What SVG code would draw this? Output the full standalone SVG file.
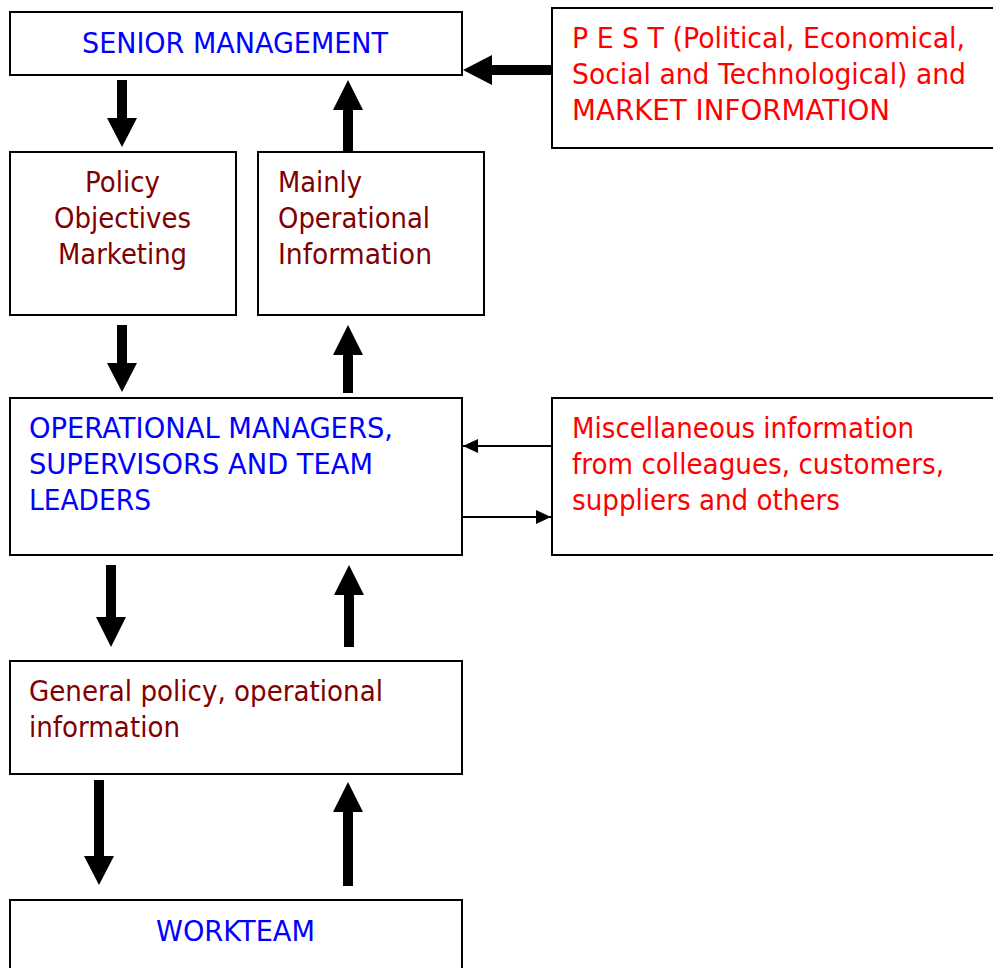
<svg xmlns="http://www.w3.org/2000/svg" width="993" height="968" viewBox="0 0 993 968">
<style>
.box{fill:#fff;stroke:#000;stroke-width:2}
.t{font-family:"DejaVu Sans",Verdana,sans-serif;font-size:28px}
.blue{fill:#0000ff}
.red{fill:#ff0000}
.dred{fill:#800000}
.thick{fill:#000}
.thin{stroke:#000;stroke-width:2;fill:none}
</style>
<defs>
<marker id="ah" markerWidth="16" markerHeight="16" refX="15" refY="8" orient="auto" markerUnits="userSpaceOnUse">
<path d="M0,1 L15,8 L0,15 Z" fill="#000"/>
</marker>
</defs>
<rect width="993" height="968" fill="#fff"/>
<g id="senior">
<rect class="box" x="10" y="12" width="452" height="63"/>
<text class="t blue" x="82" y="53" textLength="306" lengthAdjust="spacingAndGlyphs">SENIOR MANAGEMENT</text>
</g>
<g id="pest">
<rect class="box" x="552" y="8" width="446" height="140"/>
<text class="t red" x="572" y="48" textLength="393" lengthAdjust="spacingAndGlyphs">P E S T (Political, Economical,</text>
<text class="t red" x="572" y="84" textLength="394" lengthAdjust="spacingAndGlyphs">Social and Technological) and</text>
<text class="t red" x="572" y="120" textLength="318" lengthAdjust="spacingAndGlyphs">MARKET INFORMATION</text>
</g>
<g id="policy">
<rect class="box" x="10" y="152" width="226" height="163"/>
<text class="t dred" x="85" y="192" textLength="75" lengthAdjust="spacingAndGlyphs">Policy</text>
<text class="t dred" x="54" y="228" textLength="137" lengthAdjust="spacingAndGlyphs">Objectives</text>
<text class="t dred" x="58" y="264" textLength="129" lengthAdjust="spacingAndGlyphs">Marketing</text>
</g>
<g id="mainly">
<rect class="box" x="258" y="152" width="226" height="163"/>
<text class="t dred" x="278" y="192" textLength="84" lengthAdjust="spacingAndGlyphs">Mainly</text>
<text class="t dred" x="278" y="228" textLength="152" lengthAdjust="spacingAndGlyphs">Operational</text>
<text class="t dred" x="278" y="264" textLength="154" lengthAdjust="spacingAndGlyphs">Information</text>
</g>
<g id="operational">
<rect class="box" x="10" y="398" width="452" height="157"/>
<text class="t blue" x="29" y="438" textLength="364" lengthAdjust="spacingAndGlyphs">OPERATIONAL MANAGERS,</text>
<text class="t blue" x="29" y="474" textLength="344" lengthAdjust="spacingAndGlyphs">SUPERVISORS AND TEAM</text>
<text class="t blue" x="29" y="510" textLength="122" lengthAdjust="spacingAndGlyphs">LEADERS</text>
</g>
<g id="misc">
<rect class="box" x="552" y="398" width="446" height="157"/>
<text class="t red" x="572" y="438" textLength="342" lengthAdjust="spacingAndGlyphs">Miscellaneous information</text>
<text class="t red" x="572" y="474" textLength="372" lengthAdjust="spacingAndGlyphs">from colleagues, customers,</text>
<text class="t red" x="572" y="510" textLength="268" lengthAdjust="spacingAndGlyphs">suppliers and others</text>
</g>
<g id="general">
<rect class="box" x="10" y="661" width="452" height="113"/>
<text class="t dred" x="29" y="701" textLength="354" lengthAdjust="spacingAndGlyphs">General policy, operational</text>
<text class="t dred" x="29" y="737" textLength="151" lengthAdjust="spacingAndGlyphs">information</text>
</g>
<g id="workteam">
<rect class="box" x="10" y="900" width="452" height="80"/>
<text class="t blue" x="156" y="941" textLength="159" lengthAdjust="spacingAndGlyphs">WORKTEAM</text>
</g>
<g id="connectors">
<polygon class="thick" points="117,80 127,80 127,118 137,118 122,147 107,118 117,118"/>
<polygon class="thick" points="343,151 353,151 353,110 363,110 348,80 333,110 343,110"/>
<polygon class="thick" points="117,325 127,325 127,363 137,363 122,392 107,363 117,363"/>
<polygon class="thick" points="343,393 353,393 353,355 363,355 348,325 333,355 343,355"/>
<polygon class="thick" points="106,565 116,565 116,617 126,617 111,647 96,617 106,617"/>
<polygon class="thick" points="344,647 354,647 354,595 364,595 349,565 334,595 344,595"/>
<polygon class="thick" points="94,780 104,780 104,856 114,856 99,885 84,856 94,856"/>
<polygon class="thick" points="343,886 353,886 353,812 363,812 348,782 333,812 343,812"/>
<polygon class="thick" points="552,65 552,75 492,75 492,85 463,70 492,55 492,65"/>
<line class="thin" x1="552" y1="446" x2="463" y2="446" marker-end="url(#ah)"/>
<line class="thin" x1="462" y1="517" x2="551" y2="517" marker-end="url(#ah)"/>
</g>
</svg>
